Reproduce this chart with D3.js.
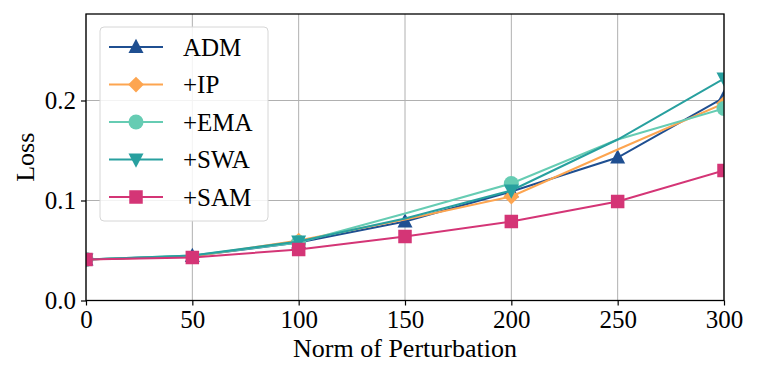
<!DOCTYPE html>
<html>
<head>
<script src="https://cdn.jsdelivr.net/npm/d3@7"></script>
<style>
  body { margin: 0; background: #fff; }
  text { font-family: "Liberation Serif", "Times New Roman", serif; fill: #000; }
</style>
</head>
<body>
<svg id="chart" width="757" height="379"></svg>
<script>
// data
var norms = [0, 50, 100, 150, 200, 250, 300];
var adm = [0.041, 0.0445, 0.058, 0.079, 0.109, 0.143, 0.203];
var ip  = [0.041, 0.044, 0.060, 0.081, 0.104, 0.151, 0.197];
var ema = [0.041, 0.045, 0.058, 0.087, 0.117, 0.161, 0.192];
var swa = [0.041, 0.045, 0.059, 0.082, 0.110, 0.161, 0.222];
var sam = [0.041, 0.043, 0.051, 0.064, 0.079, 0.099, 0.130];
var xTicks = [0, 50, 100, 150, 200, 250, 300];
var yTicks = [0.0, 0.1, 0.2];

// markers are shown on every point for ADM and SAM, every second point for the rest
var series = [
  {name: 'ADM',  values: adm, color: '#1f4f91', marker: 'triangle-up',   every: 1},
  {name: '+IP',  values: ip,  color: '#fda550', marker: 'diamond',       every: 2},
  {name: '+EMA', values: ema, color: '#66ccb3', marker: 'circle',        every: 2},
  {name: '+SWA', values: swa, color: '#28a09f', marker: 'triangle-down', every: 2},
  {name: '+SAM', values: sam, color: '#d43576', marker: 'square',        every: 1}
];

var pLeft = 86, pRight = 724, pTop = 14, pBottom = 300.5;
var svg = d3.select('#chart');

var x = d3.scaleLinear().domain([0, 300]).range([pLeft, pRight]);
var y = d3.scaleLinear().domain([0, 0.2865]).range([pBottom, pTop]);

svg.append('defs').append('clipPath').attr('id', 'plotclip')
  .append('rect')
  .attr('x', pLeft).attr('y', pTop)
  .attr('width', pRight - pLeft).attr('height', pBottom - pTop);

// grid
var grid = svg.append('g');
grid.selectAll('line.vx').data(xTicks).enter().append('line')
  .attr('x1', function(d) { return x(d); }).attr('x2', function(d) { return x(d); })
  .attr('y1', pTop).attr('y2', pBottom)
  .attr('stroke', '#b0b0b0').attr('stroke-width', 1);
grid.selectAll('line.hy').data(yTicks).enter().append('line')
  .attr('x1', pLeft).attr('x2', pRight)
  .attr('y1', function(d) { return y(d); }).attr('y2', function(d) { return y(d); })
  .attr('stroke', '#b0b0b0').attr('stroke-width', 1);

function markerPath(kind, s) {
  var h = s / 2;
  if (kind === 'triangle-up') return 'M0,' + (-h * 1.1) + 'L' + h + ',' + (h * 0.8) + 'L' + (-h) + ',' + (h * 0.8) + 'Z';
  if (kind === 'triangle-down') return 'M0,' + (h * 1.1) + 'L' + h + ',' + (-h * 0.8) + 'L' + (-h) + ',' + (-h * 0.8) + 'Z';
  if (kind === 'diamond') return 'M0,' + (-h * 1.05) + 'L' + (h * 1.05) + ',0L0,' + (h * 1.05) + 'L' + (-h * 1.05) + ',0Z';
  if (kind === 'square') return 'M' + (-h * 0.9) + ',' + (-h * 0.9) + 'h' + (s * 0.9) + 'v' + (s * 0.9) + 'h' + (-s * 0.9) + 'Z';
  return d3.symbol().type(d3.symbolCircle).size(Math.PI * h * h)();
}

var line = d3.line()
  .x(function(d, i) { return x(norms[i]); })
  .y(function(d) { return y(d); });

var plot = svg.append('g').attr('clip-path', 'url(#plotclip)');
series.forEach(function(s) {
  var g = plot.append('g');
  g.append('path')
    .attr('d', line(s.values))
    .attr('fill', 'none')
    .attr('stroke', s.color)
    .attr('stroke-width', 2);
  var pts = s.values.map(function(v, i) { return {n: norms[i], v: v, i: i}; })
    .filter(function(p) { return p.i % s.every === 0; });
  g.selectAll('path.m').data(pts).enter().append('path')
    .attr('class', 'm')
    .attr('transform', function(p) { return 'translate(' + x(p.n) + ',' + y(p.v) + ')'; })
    .attr('d', markerPath(s.marker, 15))
    .attr('fill', s.color);
});

// axes
var xAxis = svg.append('g').attr('transform', 'translate(0,' + pBottom + ')')
  .call(d3.axisBottom(x).tickValues(xTicks).tickSize(5).tickPadding(5).tickFormat(d3.format('d')));
var yAxis = svg.append('g').attr('transform', 'translate(' + pLeft + ',0)')
  .call(d3.axisLeft(y).tickValues(yTicks).tickSize(5).tickPadding(5).tickFormat(d3.format('.1f')));
[xAxis, yAxis].forEach(function(a) {
  a.select('.domain').remove();
  a.selectAll('line').attr('stroke', '#000').attr('stroke-width', 1.2);
  a.selectAll('text').style('font-size', '25px').style('font-family', '"Liberation Serif", serif').attr('fill', '#000');
});

svg.append('rect')
  .attr('x', pLeft).attr('y', pTop)
  .attr('width', pRight - pLeft).attr('height', pBottom - pTop)
  .attr('fill', 'none').attr('stroke', '#000').attr('stroke-width', 1.3);

svg.append('text')
  .attr('x', (pLeft + pRight) / 2).attr('y', 357)
  .attr('text-anchor', 'middle')
  .style('font-size', '26px')
  .text('Norm of Perturbation');
svg.append('text')
  .attr('transform', 'translate(34,' + ((pTop + pBottom) / 2) + ') rotate(-90)')
  .attr('text-anchor', 'middle')
  .style('font-size', '26px')
  .text('Loss');

// legend
var legend = svg.append('g');
legend.append('rect')
  .attr('x', 100).attr('y', 27).attr('width', 168).attr('height', 194)
  .attr('rx', 4)
  .attr('fill', 'rgba(255,255,255,0.85)')
  .attr('stroke', '#d6d6d6').attr('stroke-width', 1);
var rows = legend.selectAll('g.row').data(series).enter().append('g')
  .attr('transform', function(d, i) { return 'translate(0,' + (47 + i * 37.5) + ')'; });
rows.append('line')
  .attr('x1', 109).attr('x2', 163).attr('y1', 0).attr('y2', 0)
  .attr('stroke', function(d) { return d.color; }).attr('stroke-width', 2);
rows.append('path')
  .attr('transform', 'translate(136,0)')
  .attr('d', function(d) { return markerPath(d.marker, 15); })
  .attr('fill', function(d) { return d.color; });
rows.append('text')
  .attr('x', 183).attr('y', 0).attr('dy', '0.35em')
  .style('font-size', '25px')
  .text(function(d) { return d.name; });
</script>
</body>
</html>
